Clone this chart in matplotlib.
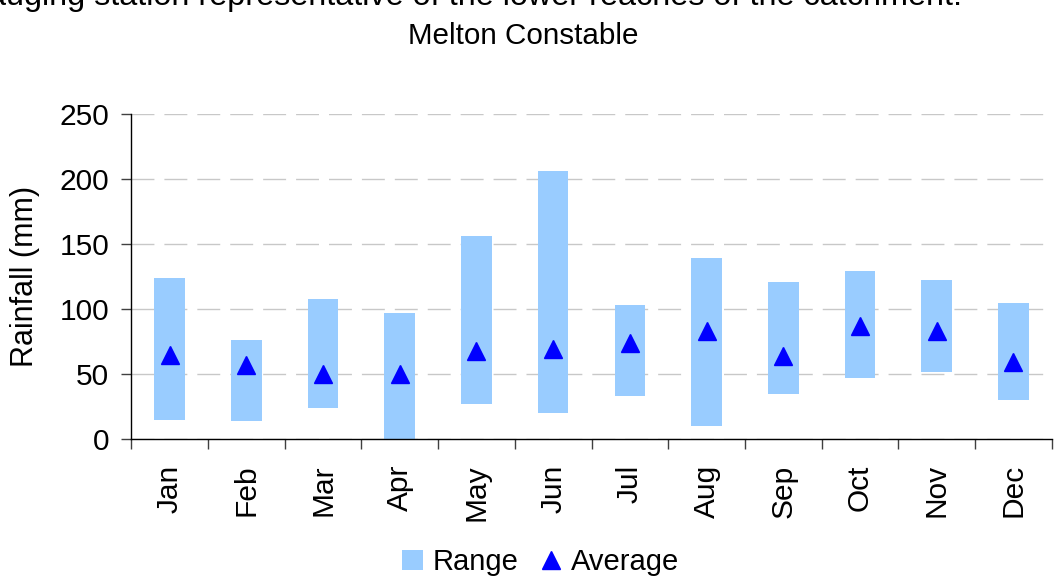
import matplotlib
matplotlib.use("Agg")
import matplotlib.pyplot as plt
from matplotlib.ticker import FixedLocator, NullFormatter
from matplotlib.patches import Patch
from matplotlib.lines import Line2D

# Monthly rainfall at Melton Constable (mm)
months = ["Jan", "Feb", "Mar", "Apr", "May", "Jun",
          "Jul", "Aug", "Sep", "Oct", "Nov", "Dec"]
range_min = [15, 14, 24, 0, 27, 20, 33, 10, 35, 47, 52, 30]
range_max = [124, 76, 108, 97, 156, 206, 103, 139, 121, 129, 122, 105]
average = [65, 57, 50, 50, 68, 69, 74, 83, 64, 87, 83, 59]

plt.rcParams["font.family"] = ["Liberation Sans", "DejaVu Sans"]

W, H = 1061, 583
fig = plt.figure(figsize=(W / 100, H / 100), dpi=100)
left, right, top, bottom = 131.3, 1051.7, 113.7, 439.3
ax = fig.add_axes([left / W, 1 - bottom / H, (right - left) / W, (bottom - top) / H])

x = list(range(len(months)))
heights = [hi - lo for lo, hi in zip(range_min, range_max)]
ax.bar(x, heights, bottom=range_min, width=0.4, color="#99CCFF", zorder=2)
ax.plot(x, average, linestyle="none", marker="^", markersize=13,
        color="#0000FF", zorder=3)

ax.set_xlim(-0.5, len(months) - 0.5)
ax.set_ylim(0, 250)
ax.set_yticks([0, 50, 100, 150, 200, 250])
ax.yaxis.grid(True, color="#C8C8C8", linewidth=1.0, dashes=(16.5, 7.2), zorder=0)
ax.set_axisbelow(True)

ax.set_xticks(x)
ax.set_xticklabels(months, rotation=90)
ax.xaxis.set_minor_locator(FixedLocator([i - 0.5 for i in range(len(months) + 1)]))
ax.xaxis.set_minor_formatter(NullFormatter())
ax.tick_params(axis="x", which="major", length=0, pad=18, labelsize=21.5)
ax.tick_params(axis="x", which="minor", length=7, width=1, color="#404040")
ax.tick_params(axis="y", length=7, width=1, pad=9, labelsize=21.5, color="#404040")

for s in ("top", "right"):
    ax.spines[s].set_visible(False)
for s in ("left", "bottom"):
    ax.spines[s].set_color("black")
    ax.spines[s].set_linewidth(1.0)

ax.set_ylabel("Rainfall (mm)", fontsize=22, labelpad=14)

fig.text(962 / W, 1 - 5 / H,
         "gauging station representative of the lower reaches of the catchment.",
         ha="right", va="baseline", fontsize=23.3)
fig.text(523 / W, 1 - 43.5 / H, "Melton Constable",
         ha="center", va="baseline", fontsize=21.3)

handles = [Patch(facecolor="#99CCFF", edgecolor="none", label="Range"),
           Line2D([], [], linestyle="none", marker="^", markersize=13,
                  color="#0000FF", label="Average")]
fig.legend(handles=handles, loc="center", bbox_to_anchor=(541 / W, 1 - 562 / H),
           ncol=2, frameon=False, fontsize=21, handlelength=0.7,
           handleheight=0.7, handletextpad=0.35, columnspacing=0.75,
           borderaxespad=0, borderpad=0)

fig.savefig("out.png", dpi=100)
